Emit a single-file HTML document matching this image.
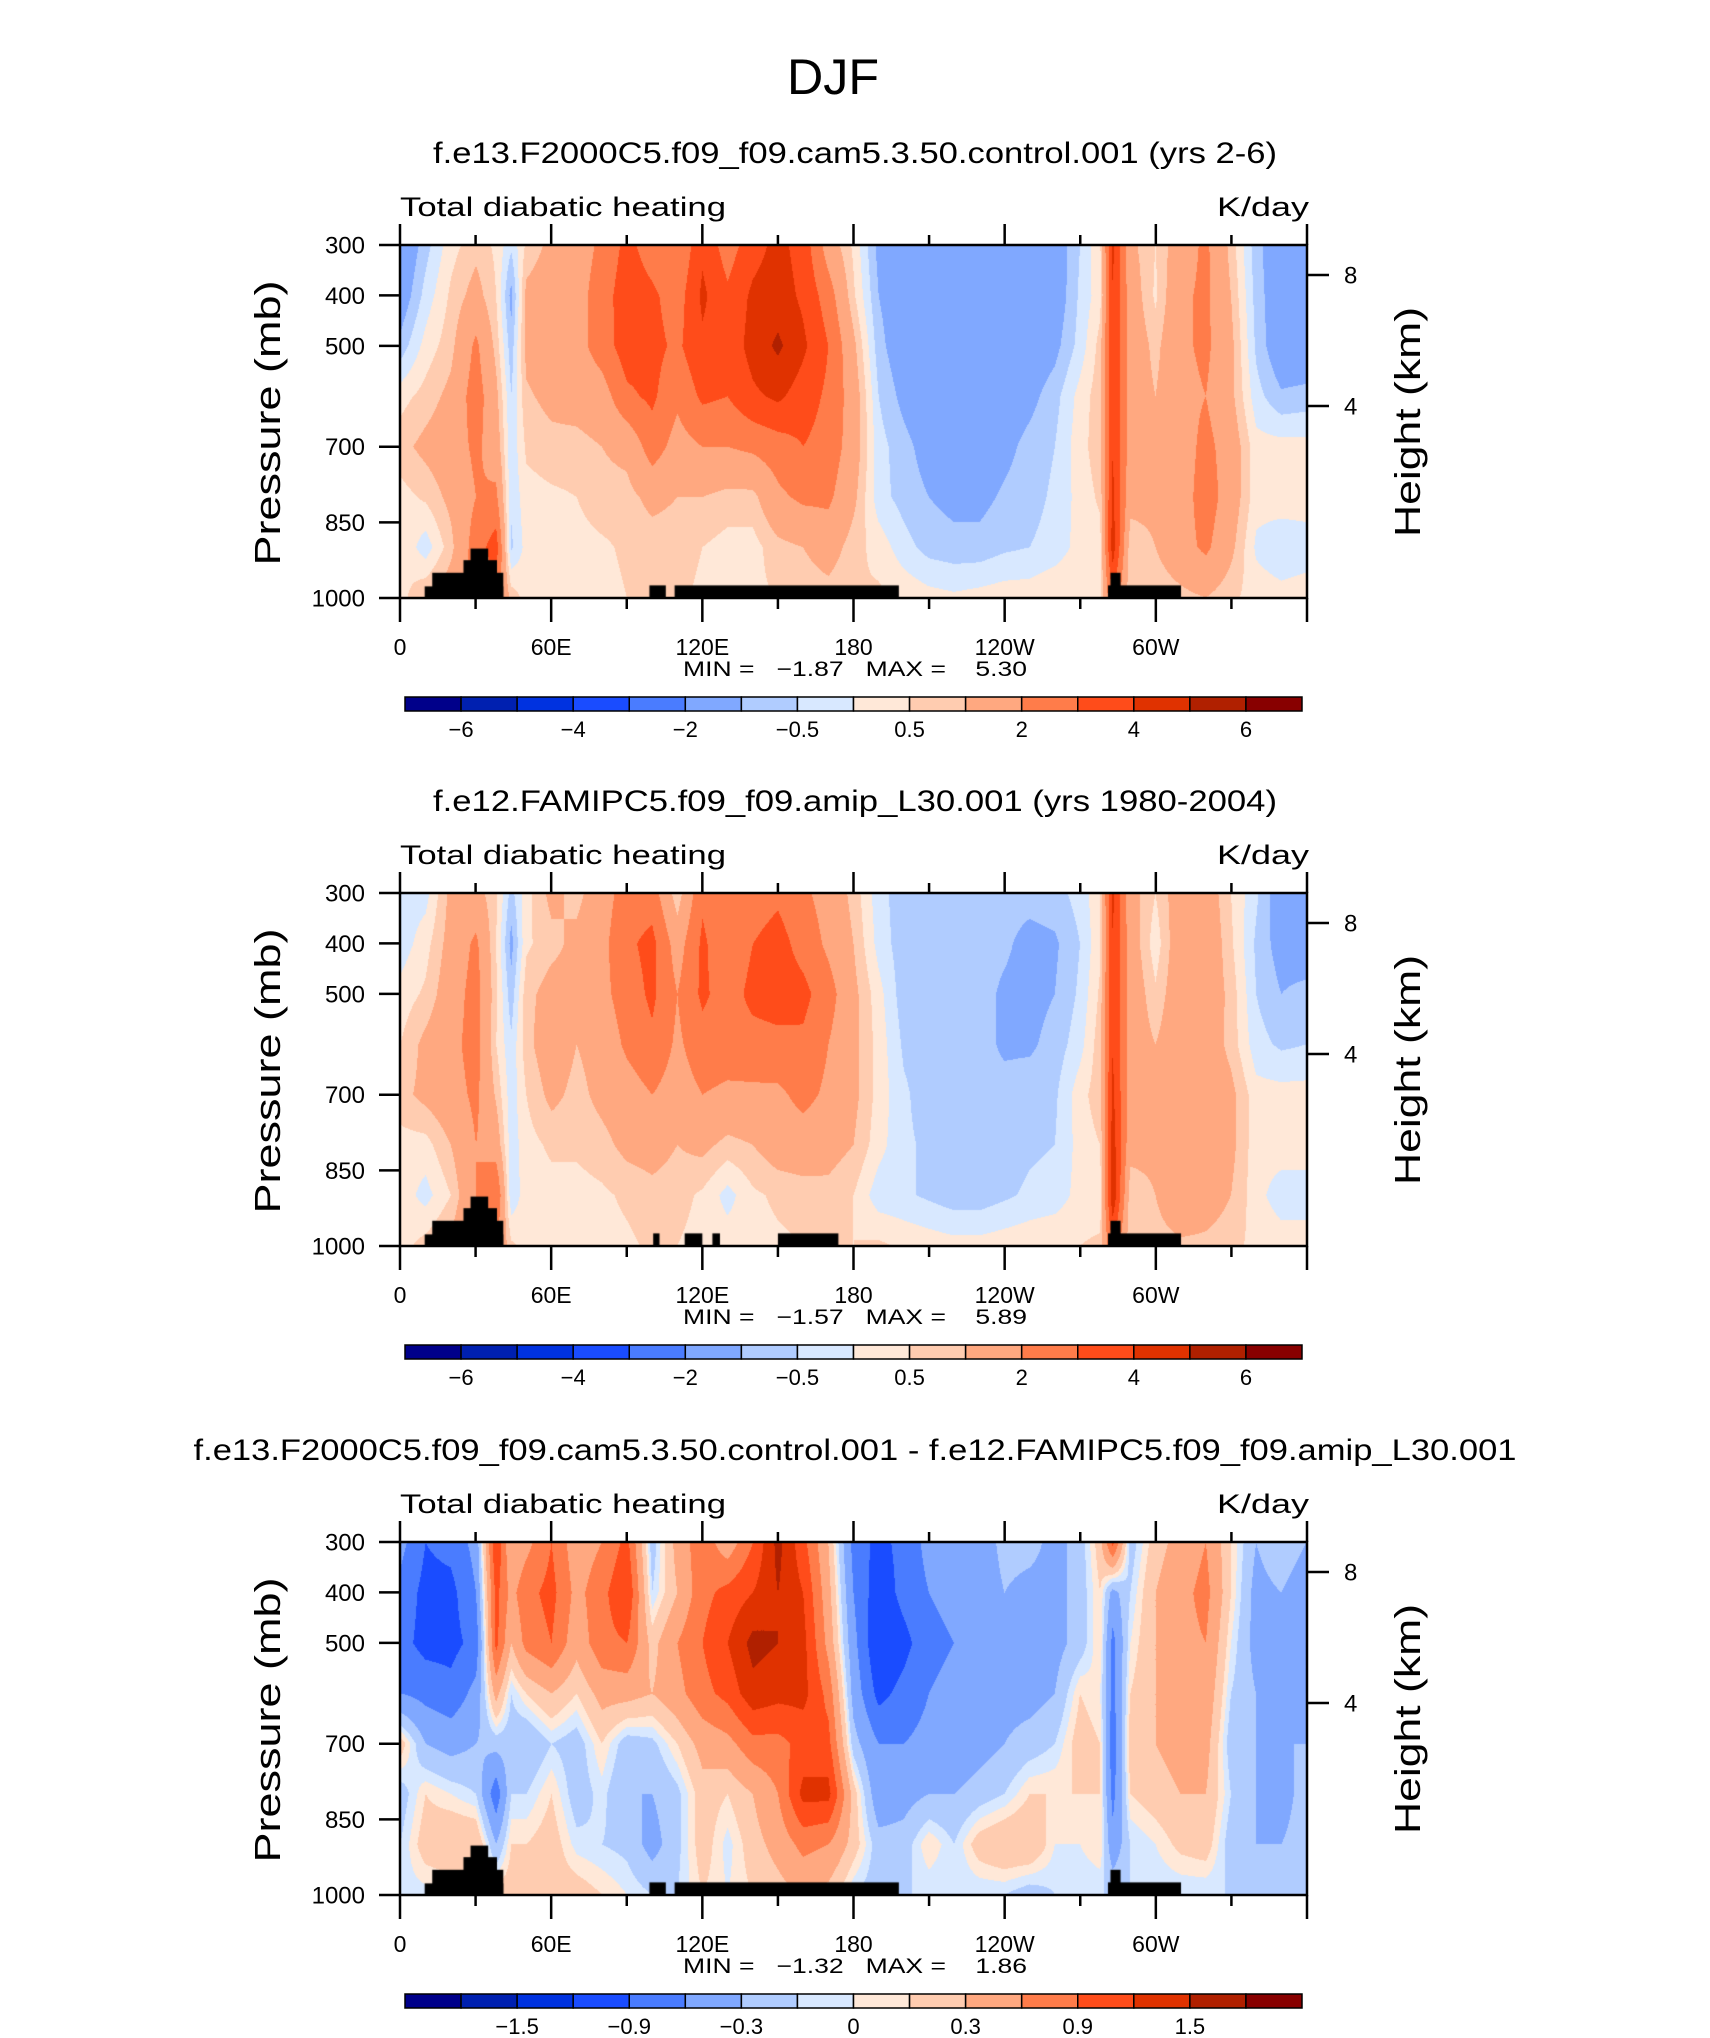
<!DOCTYPE html>
<html><head><meta charset="utf-8">
<style>
html,body{margin:0;padding:0;background:#fff;}
#wrap{position:relative;width:1710px;height:2038px;overflow:hidden;background:#fff;}
canvas{position:absolute;left:400px;}
svg{position:absolute;left:0;top:0;}
text{font-family:"Liberation Sans",sans-serif;fill:#000;}
</style></head>
<body>
<div id="wrap">
<canvas id="c1" width="907" height="353" style="top:245px"></canvas>
<canvas id="c2" width="907" height="353" style="top:893px"></canvas>
<canvas id="c3" width="907" height="353" style="top:1542px"></canvas>
<svg id="svg" width="1710" height="2038" xmlns="http://www.w3.org/2000/svg">
<text x="833" y="94" font-size="50" text-anchor="middle" textLength="92" lengthAdjust="spacingAndGlyphs">DJF</text>
</svg>
</div>
<script>
// ---- data ----
const lons = [0,10,20,30,38,44,50,60,70,80,90,100,110,120,130,140,150,160,170,180,190,200,210,220,230,240,250,260,270,278,283,290,300,310,320,330,340,350,360];
const levels = [300,400,500,600,700,800,900,1000];
const heat1 = [
[-1.8,-1.5,-0.8,0.3,0.8,0.3,0.5,0.3],
[-0.7,-0.3,0.2,0.7,1.2,0.6,-0.3,1.0],
[0.3,0.6,0.8,1.2,1.5,1.2,0.8,1.5],
[0.8,1.3,2.2,2.5,2.2,2.0,2.5,2.5],
[0.4,0.5,0.8,1.2,1.5,2.2,3.5,2.5],
[-0.4,-1.2,-0.8,-0.5,-0.4,-0.4,-0.6,0.8],
[0.6,1.2,1.2,0.9,0.6,0.3,0.2,0.3],
[1.2,1.5,1.5,1.2,0.8,0.4,0.3,0.3],
[1.5,1.6,1.6,1.3,0.8,0.5,0.3,0.3],
[2.2,2.5,2.5,1.5,1.0,0.8,0.4,0.3],
[3.3,3.6,3.5,2.8,1.2,0.8,0.6,0.5],
[2.5,3.2,3.3,3.2,2.5,1.2,0.7,0.5],
[2.0,2.5,2.8,2.2,1.6,1.0,0.7,0.6],
[3.8,4.2,3.8,3.2,2.0,1.0,0.5,0.4],
[2.5,3.2,3.3,3.0,2.0,0.8,0.3,0.3],
[3.6,4.2,4.4,3.8,2.2,0.8,0.3,0.4],
[4.3,4.5,5.2,4.2,2.5,1.8,0.8,0.5],
[3.6,3.8,4.2,3.5,3.0,2.2,1.0,0.6],
[1.5,2.5,3.0,2.8,2.6,2.2,1.4,0.7],
[0.4,0.6,1.2,1.5,1.5,1.2,0.7,0.5],
[-1.2,-1.0,-0.8,-0.5,-0.3,-0.3,0.3,0.6],
[-1.5,-1.5,-1.5,-1.2,-0.8,-0.7,-0.3,0.4],
[-1.6,-1.6,-1.6,-1.6,-1.3,-1.0,-0.7,0.2],
[-1.6,-1.6,-1.6,-1.6,-1.6,-1.2,-0.8,0.1],
[-1.6,-1.6,-1.6,-1.6,-1.5,-1.2,-0.8,0.2],
[-1.6,-1.6,-1.6,-1.5,-1.2,-0.9,-0.6,0.3],
[-1.6,-1.6,-1.5,-1.2,-0.8,-0.7,-0.5,0.3],
[-1.5,-1.5,-1.2,-0.7,-0.5,-0.4,-0.3,0.5],
[-0.5,-0.4,-0.3,0.2,0.3,0.2,0.2,0.5],
[0.4,0.3,0.7,0.8,0.8,0.6,0.3,0.4],
[4.2,4.0,4.0,4.0,4.0,4.2,4.5,3.0],
[1.2,1.5,1.6,1.5,1.5,1.3,0.6,0.5],
[0.5,0.4,0.8,1.0,1.2,1.2,1.0,0.6],
[1.5,1.8,1.8,1.7,1.5,1.5,1.6,0.8],
[2.2,2.2,2.2,2.0,2.3,2.5,2.2,1.0],
[0.8,1.0,1.2,1.2,1.5,1.5,1.2,0.6],
[-0.8,-0.7,-0.6,-0.3,0.2,0.2,-0.1,0.3],
[-1.6,-1.6,-1.6,-0.9,0.2,0.3,-0.4,0.2],
[-1.8,-1.6,-1.6,-0.8,0.2,0.3,-0.3,0.3]
];
const heat2 = [
[-0.3,-0.3,0.2,0.5,0.8,0.3,0.3,0.3],
[-0.2,0.3,0.6,1.2,1.2,0.3,-0.2,0.7],
[1.2,1.3,1.5,1.7,1.6,1.0,0.5,1.2],
[1.3,2.2,2.4,2.4,2.2,2.0,2.0,2.0],
[0.6,0.5,0.6,0.5,0.9,1.5,3.0,2.0],
[-0.7,-1.2,-0.8,-0.4,-0.3,-0.3,-0.4,0.6],
[0.3,0.4,0.8,0.8,0.5,0.3,0.3,0.3],
[1.2,0.8,1.3,1.5,1.2,0.6,0.3,0.3],
[0.8,1.2,1.3,1.0,0.8,0.6,0.3,0.3],
[1.5,1.7,1.7,1.3,1.2,0.8,0.4,0.3],
[2.5,2.8,2.5,2.2,1.5,1.2,0.6,0.4],
[2.5,3.3,3.2,2.8,2.0,1.3,0.8,0.6],
[0.6,1.5,2.0,1.8,1.5,1.0,0.7,0.5],
[2.8,3.2,3.2,2.6,2.0,1.2,0.4,0.3],
[2.0,2.2,2.5,2.5,1.8,0.8,-0.2,0.3],
[2.5,3.0,3.3,2.6,1.8,1.0,0.4,0.3],
[2.8,3.4,3.5,2.7,1.8,1.4,0.6,0.4],
[2.2,2.6,3.3,2.8,2.3,1.5,0.7,0.5],
[1.6,1.8,2.4,2.0,1.8,1.3,0.8,0.6],
[0.8,1.0,1.2,1.2,1.2,1.0,0.5,0.5],
[-0.3,-0.2,0.2,0.3,0.3,0.2,-0.3,0.6],
[-0.8,-0.8,-0.8,-0.6,-0.4,-0.4,-0.4,0.4],
[-0.8,-0.8,-0.8,-0.8,-0.8,-0.6,-0.6,0.3],
[-0.8,-0.8,-0.8,-0.8,-0.8,-0.8,-0.8,0.2],
[-0.8,-0.8,-0.8,-0.8,-0.8,-0.8,-0.8,0.2],
[-0.8,-0.9,-1.1,-1.1,-0.8,-0.8,-0.6,0.3],
[-0.8,-1.2,-1.2,-1.1,-0.7,-0.6,-0.4,0.4],
[-0.7,-1.1,-1.0,-0.8,-0.6,-0.5,-0.3,0.5],
[-0.3,-0.5,-0.4,-0.2,0.3,0.2,0.2,0.5],
[0.4,0.4,0.6,0.8,0.8,0.5,0.2,0.6],
[4.2,4.0,4.0,4.0,4.2,4.5,4.8,3.0],
[1.3,1.5,1.6,1.5,1.5,1.3,0.6,0.5],
[0.5,0.2,0.6,1.0,1.2,1.2,1.0,0.6],
[1.5,1.6,1.6,1.6,1.5,1.5,2.0,0.8],
[1.5,1.7,1.6,1.5,1.6,1.6,1.5,0.8],
[0.5,0.6,0.8,0.8,1.2,1.2,1.0,0.6],
[-0.4,-0.6,-0.5,-0.3,0.2,0.2,0.2,0.4],
[-1.5,-1.3,-1.0,-0.6,0.2,0.3,-0.3,0.3],
[-1.6,-1.5,-0.8,-0.5,0.2,0.3,-0.3,0.3]
];
const heat3 = [
[-0.5,-0.7,-0.8,-0.6,0.2,-0.2,-0.1,-0.05],
[-0.9,-1.0,-1.0,-0.7,-0.3,0.1,0.2,-0.05],
[-0.8,-1.0,-1.0,-0.8,-0.4,0.0,0.3,-0.05],
[-0.5,-0.6,-0.8,-0.5,-0.3,-0.1,0.3,0.2],
[1.2,1.0,1.0,0.4,-0.2,-0.8,-0.3,0.2],
[0.3,0.5,0.3,-0.1,-0.2,-0.1,0.1,0.2],
[0.5,0.8,0.7,0.1,-0.3,-0.1,0.1,0.3],
[0.9,1.0,0.9,0.3,-0.1,0.1,0.2,0.2],
[0.4,0.5,0.4,0.1,-0.2,-0.2,-0.05,0.2],
[0.6,0.8,0.8,0.4,0.1,-0.05,-0.1,0.1],
[1.0,1.2,0.9,0.4,-0.2,-0.3,-0.15,0.0],
[-0.2,-0.1,0.2,0.3,-0.15,-0.3,-0.4,-0.1],
[0.4,0.3,0.6,0.5,0.1,-0.15,-0.15,-0.1],
[0.8,0.8,0.9,0.8,0.4,0.2,0.2,0.1],
[0.4,1.0,1.2,1.0,0.5,0.1,-0.05,0.0],
[0.9,1.2,1.6,1.4,0.8,0.3,0.2,0.1],
[1.6,1.5,1.5,1.3,0.8,0.6,0.4,0.2],
[1.0,1.2,1.3,1.3,1.0,1.3,0.7,0.3],
[0.3,0.4,0.5,0.8,1.0,1.3,0.6,0.2],
[-0.7,-0.6,-0.5,-0.4,-0.2,0.2,0.2,-0.1],
[-1.0,-1.1,-1.2,-1.0,-0.6,-0.5,-0.2,-0.2],
[-0.8,-0.8,-1.0,-0.8,-0.6,-0.4,-0.2,-0.1],
[-0.5,-0.6,-0.7,-0.6,-0.5,-0.3,0.1,-0.1],
[-0.5,-0.5,-0.6,-0.5,-0.5,-0.3,-0.1,-0.1],
[-0.5,-0.5,-0.5,-0.4,-0.4,-0.2,0.2,-0.1],
[-0.2,-0.3,-0.4,-0.4,-0.3,-0.1,0.3,-0.1],
[-0.2,-0.4,-0.4,-0.4,-0.2,0.1,0.3,-0.2],
[-0.4,-0.4,-0.4,-0.3,-0.1,0.1,0.0,-0.1],
[-0.2,-0.2,-0.2,0.1,0.2,0.1,0.0,-0.1],
[0.2,0.1,0.1,0.0,0.1,0.1,0.1,-0.1],
[1.0,-0.4,-0.7,-0.7,-0.8,-0.7,-0.5,-0.1],
[-0.2,-0.1,0.0,0.1,0.2,0.1,-0.1,-0.1],
[0.2,0.3,0.3,0.3,0.3,0.2,0.0,-0.1],
[0.4,0.5,0.5,0.5,0.4,0.3,0.15,-0.1],
[0.6,0.7,0.6,0.5,0.4,0.3,0.2,-0.1],
[0.1,0.1,0.0,-0.1,-0.2,-0.1,-0.2,-0.1],
[-0.3,-0.4,-0.4,-0.3,-0.3,-0.3,-0.3,-0.1],
[-0.1,-0.3,-0.5,-0.6,-0.3,-0.4,-0.3,-0.1],
[-0.3,-0.5,-0.6,-0.6,-0.3,-0.2,-0.2,-0.1]
];
// land mask steps: [lonStart, lonEnd, topPressure]
const land1 = [[9.8,41,977],[12.8,41,950],[25.2,38.5,925],[28,35,902],[99,105.5,975],[109,198,975],[281,310,975],[282,286,950]];
const land2 = [[9.8,41,977],[12.8,41,950],[25.2,38.5,925],[28,35,902],[100.5,103,975],[113,120,975],[124,127,975],[150,174,975],[281,310,975],[282,286,950]];
const bounds12 = [-6,-5,-4,-3,-2,-1,-0.5,0,0.5,1,2,3,4,5,6];
const bounds3 = [-1.8,-1.5,-1.2,-0.9,-0.6,-0.3,-0.1,0,0.1,0.3,0.6,0.9,1.2,1.5,1.8];
const colors = ["#00008a","#0020b0","#0032e0","#1a4cff","#4a7cff","#80a8ff","#b0ccff","#d8e8ff","#ffe8d8","#ffccb0","#ffa880","#ff7c4a","#ff4c1a","#e03200","#b02000","#880000"];
const cbLabels12 = ["−6","−4","−2","−0.5","0.5","2","4","6"];
const cbLabelIdx12 = [0,2,4,6,8,10,12,14];
const cbLabels3 = ["−1.5","−0.9","−0.3","0","0.3","0.9","1.5"];
const cbLabelIdx3 = [1,3,5,7,9,11,13];
const xTickLons = [0,60,120,180,240,300];
const xTickLabels = ["0","60E","120E","180","120W","60W"];
const yTickP = [300,400,500,700,850,1000];
const heightTicks = [[8,30],[4,161]];
const titles = ["f.e13.F2000C5.f09_f09.cam5.3.50.control.001 (yrs 2-6)","f.e12.FAMIPC5.f09_f09.amip_L30.001 (yrs 1980-2004)","f.e13.F2000C5.f09_f09.cam5.3.50.control.001 - f.e12.FAMIPC5.f09_f09.amip_L30.001"];
const minmax = [["−1.87","5.30"],["−1.57","5.89"],["−1.32","1.86"]];

// ---- layout ----
const L=400, W=907, H=353;
const panels=[
 {top:245,field:heat1,bounds:bounds12,land:land1,canvas:"c1",tw:844,cbl:cbLabels12,cbi:cbLabelIdx12},
 {top:893,field:heat2,bounds:bounds12,land:land2,canvas:"c2",tw:844,cbl:cbLabels12,cbi:cbLabelIdx12},
 {top:1542,field:heat3,bounds:bounds3,land:land1,canvas:"c3",tw:1323,cbl:cbLabels3,cbi:cbLabelIdx3}
];
const xs = lon => L + lon/360*W;
const ys = (p,T) => T + (p-300)/700*H;

function interp(field,lon,p){
  let i=0; while(i<lons.length-2 && lons[i+1]<lon) i++;
  let j=0; while(j<levels.length-2 && levels[j+1]<p) j++;
  const fx=(lon-lons[i])/(lons[i+1]-lons[i]);
  const fy=(p-levels[j])/(levels[j+1]-levels[j]);
  const a=field[i][j], b=field[i+1][j], c=field[i][j+1], d=field[i+1][j+1];
  return (a*(1-fx)+b*fx)*(1-fy)+(c*(1-fx)+d*fx)*fy;
}
function hex(h){return [parseInt(h.substr(1,2),16),parseInt(h.substr(3,2),16),parseInt(h.substr(5,2),16)];}
const rgb=colors.map(hex);

panels.forEach(P=>{
  const cv=document.getElementById(P.canvas), ctx=cv.getContext("2d");
  const img=ctx.createImageData(W,H);
  for(let py=0;py<H;py++){
    const p=300+py/(H-1)*700;
    for(let px=0;px<W;px++){
      const lon=px/(W-1)*360;
      const v=interp(P.field,lon,p);
      let k=0; while(k<P.bounds.length && v>P.bounds[k]) k++;
      const c=rgb[k], o=(py*W+px)*4;
      img.data[o]=c[0];img.data[o+1]=c[1];img.data[o+2]=c[2];img.data[o+3]=255;
    }
  }
  ctx.putImageData(img,0,0);
  ctx.fillStyle="#000";
  P.land.forEach(s=>{
    const x0=s[0]/360*W, x1=s[1]/360*W, y0=(s[2]-300)/700*H;
    ctx.fillRect(x0,y0,x1-x0,H-y0);
  });
});

const svg=document.getElementById("svg");
const NS="http://www.w3.org/2000/svg";
function mk(tag,attrs,parent){const e=document.createElementNS(NS,tag);for(const k in attrs)e.setAttribute(k,attrs[k]);(parent||svg).appendChild(e);return e;}

panels.forEach((P,pi)=>{
  const T=P.top, B=T+H;
  const g=mk("g",{});
  
  
  let t=mk("text",{x:855,y:T-82,"font-size":30,"text-anchor":"middle",textLength:P.tw,lengthAdjust:"spacingAndGlyphs"},g);
  t.textContent=titles[pi];
  
  
  t=mk("text",{x:400,y:T-29,"font-size":27,textLength:326,lengthAdjust:"spacingAndGlyphs"},g);
  t.textContent="Total diabatic heating";
  
  
  t=mk("text",{x:1217,y:T-29,"font-size":27,textLength:92,lengthAdjust:"spacingAndGlyphs"},g);
  t.textContent="K/day";
  
  
  const fr=mk("rect",{x:L,y:T,width:W,height:H,fill:"none",stroke:"#000","stroke-width":2.5},g);
  
  
  for(let lon=0;lon<=360;lon+=30){
    const x=xs(lon), maj=lon%60===0;
    const tt=mk("line",{x1:x,x2:x,y1:T,y2:T-(maj?21:10),stroke:"#000","stroke-width":2.5},g);
    
    
    const tb=mk("line",{x1:x,x2:x,y1:B,y2:B+(maj?24:11),stroke:"#000","stroke-width":2.5},g);
    
    
  }
  xTickLons.forEach((lon,i)=>{
    const e=mk("text",{x:xs(lon),y:B+57,"font-size":23,"text-anchor":"middle"},g);
    e.textContent=xTickLabels[i];
    
    
  });
  yTickP.forEach(p=>{
    const y=ys(p,T);
    const l=mk("line",{x1:L,x2:L-21,y1:y,y2:y,stroke:"#000","stroke-width":2.5},g);
    
    
    const e=mk("text",{x:365,y:y+8.5,"font-size":24,"text-anchor":"end"},g);
    e.textContent=String(p);
    
    
  });
  heightTicks.forEach(h=>{
    const y=T+h[1];
    const l=mk("line",{x1:L+W,x2:L+W+22,y1:y,y2:y,stroke:"#000","stroke-width":2.5},g);
    
    
    const e=mk("text",{x:1344,y:y+8.5,"font-size":24},g);
    e.textContent=String(h[0]);
    
    
  });
  t=mk("text",{x:0,y:0,"font-size":36,"text-anchor":"middle",textLength:285,lengthAdjust:"spacingAndGlyphs",transform:"translate(280,"+(T+178)+") rotate(-90)"},g);
  t.textContent="Pressure (mb)";
  
  
  t=mk("text",{x:0,y:0,"font-size":36,"text-anchor":"middle",textLength:230,lengthAdjust:"spacingAndGlyphs",transform:"translate(1420,"+(T+177)+") rotate(-90)"},g);
  t.textContent="Height (km)";
  
  
  t=mk("text",{x:855,y:B+78,"font-size":21,"text-anchor":"middle",textLength:344,lengthAdjust:"spacingAndGlyphs",style:"white-space:pre"},g);
  t.textContent="MIN =   "+minmax[pi][0]+"   MAX =    "+minmax[pi][1];
  
  
  const cx0=405, cx1=1302, cw=(cx1-cx0)/16, cy=T+452;
  colors.forEach((c,i)=>{
    const r=mk("rect",{x:cx0+i*cw,y:cy,width:cw,height:14,fill:c,stroke:"#000","stroke-width":1.5},g);
    
    
  });
  P.cbl.forEach((lab,i)=>{
    const e=mk("text",{x:cx0+(P.cbi[i]+1)*cw,y:cy+40,"font-size":22,"text-anchor":"middle"},g);
    e.textContent=lab;
    
    
  });
});
</script>
</body></html>
